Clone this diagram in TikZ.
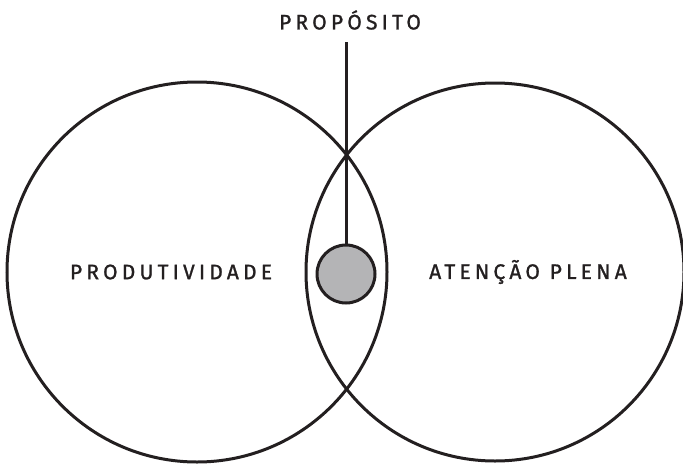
\documentclass[tikz,border=0pt]{standalone}
\usepackage{fontspec}
\newfontfamily\handfont[LetterSpace=20,FakeBold=1.2]{Fira Sans}
\definecolor{inkc}{HTML}{231F20}
\definecolor{dotgray}{HTML}{B4B4B6}
\begin{document}
\begin{tikzpicture}[x=1pt,y=-1pt,
  ring/.style={draw=inkc,line width=3pt},
  lbl/.style={font=\handfont\fontsize{21}{21}\selectfont,text=inkc,inner sep=0pt}]
\useasboundingbox (0,0) rectangle (683,469);
\draw[ring] (197,272) circle (190);
\draw[ring] (495,272) circle (189);
\node[circle,draw=inkc,line width=3pt,fill=dotgray,minimum size=58pt,inner sep=0pt] (dot) at (346,274) {};
\coordinate (top) at (346,42);
\draw[ring] (top) -- (dot.north);
\node[lbl] (prop) at (350,20) {PROPÓSITO};
\node[lbl] (prod) at (171,272) {PRODUTIVIDADE};
\node[lbl] (aten) at (528,272) {ATENÇÃO PLENA};
\end{tikzpicture}
\end{document}
